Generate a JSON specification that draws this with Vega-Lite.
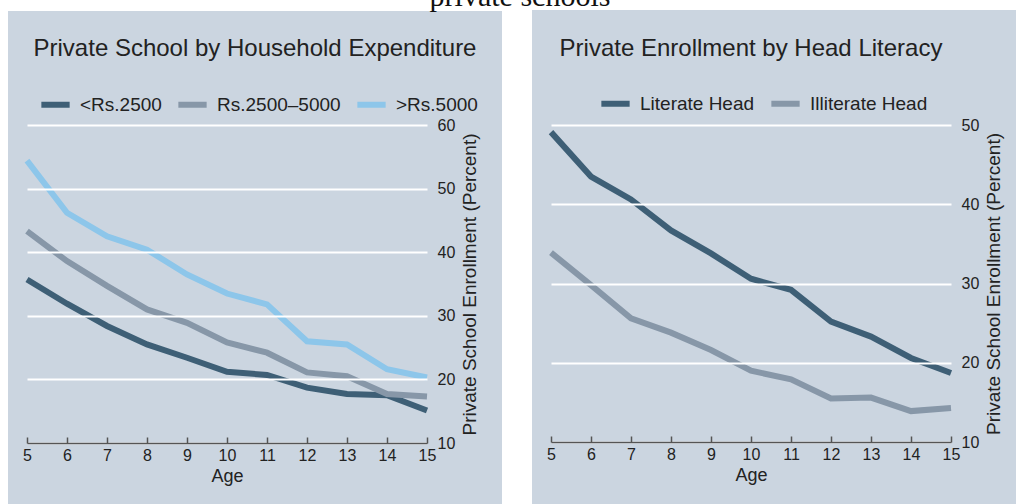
{
  "$schema": "https://vega.github.io/schema/vega-lite/v6.json",
  "background": "white",
  "padding": {"left": 8, "top": -18, "right": 0, "bottom": 0},
  "title": {"text": "private schools", "font": "Liberation Serif", "fontSize": 30, "fontWeight": "normal", "color": "#111", "baseline": "alphabetic", "anchor": "middle", "offset": -26, "dx": 6},
  "datasets": {
    "exp": [
      {"age": 5, "group": "<Rs.2500", "pct": 35.7}, {"age": 6, "group": "<Rs.2500", "pct": 31.9}, {"age": 7, "group": "<Rs.2500", "pct": 28.4}, {"age": 8, "group": "<Rs.2500", "pct": 25.5}, {"age": 9, "group": "<Rs.2500", "pct": 23.4}, {"age": 10, "group": "<Rs.2500", "pct": 21.2}, {"age": 11, "group": "<Rs.2500", "pct": 20.7}, {"age": 12, "group": "<Rs.2500", "pct": 18.7}, {"age": 13, "group": "<Rs.2500", "pct": 17.7}, {"age": 14, "group": "<Rs.2500", "pct": 17.5}, {"age": 15, "group": "<Rs.2500", "pct": 15.1},
      {"age": 5, "group": "Rs.2500–5000", "pct": 43.3}, {"age": 6, "group": "Rs.2500–5000", "pct": 38.6}, {"age": 7, "group": "Rs.2500–5000", "pct": 34.7}, {"age": 8, "group": "Rs.2500–5000", "pct": 31.0}, {"age": 9, "group": "Rs.2500–5000", "pct": 28.9}, {"age": 10, "group": "Rs.2500–5000", "pct": 25.8}, {"age": 11, "group": "Rs.2500–5000", "pct": 24.2}, {"age": 12, "group": "Rs.2500–5000", "pct": 21.1}, {"age": 13, "group": "Rs.2500–5000", "pct": 20.5}, {"age": 14, "group": "Rs.2500–5000", "pct": 17.7}, {"age": 15, "group": "Rs.2500–5000", "pct": 17.3},
      {"age": 5, "group": ">Rs.5000", "pct": 54.4}, {"age": 6, "group": ">Rs.5000", "pct": 46.2}, {"age": 7, "group": ">Rs.5000", "pct": 42.5}, {"age": 8, "group": ">Rs.5000", "pct": 40.4}, {"age": 9, "group": ">Rs.5000", "pct": 36.5}, {"age": 10, "group": ">Rs.5000", "pct": 33.5}, {"age": 11, "group": ">Rs.5000", "pct": 31.8}, {"age": 12, "group": ">Rs.5000", "pct": 26.0}, {"age": 13, "group": ">Rs.5000", "pct": 25.5}, {"age": 14, "group": ">Rs.5000", "pct": 21.6}, {"age": 15, "group": ">Rs.5000", "pct": 20.3}
    ],
    "lit": [
      {"age": 5, "group": "Literate Head", "pct": 49.1}, {"age": 6, "group": "Literate Head", "pct": 43.5}, {"age": 7, "group": "Literate Head", "pct": 40.6}, {"age": 8, "group": "Literate Head", "pct": 36.7}, {"age": 9, "group": "Literate Head", "pct": 33.8}, {"age": 10, "group": "Literate Head", "pct": 30.6}, {"age": 11, "group": "Literate Head", "pct": 29.2}, {"age": 12, "group": "Literate Head", "pct": 25.2}, {"age": 13, "group": "Literate Head", "pct": 23.3}, {"age": 14, "group": "Literate Head", "pct": 20.6}, {"age": 15, "group": "Literate Head", "pct": 18.7},
      {"age": 5, "group": "Illiterate Head", "pct": 33.9}, {"age": 6, "group": "Illiterate Head", "pct": 29.8}, {"age": 7, "group": "Illiterate Head", "pct": 25.6}, {"age": 8, "group": "Illiterate Head", "pct": 23.8}, {"age": 9, "group": "Illiterate Head", "pct": 21.6}, {"age": 10, "group": "Illiterate Head", "pct": 19.0}, {"age": 11, "group": "Illiterate Head", "pct": 17.9}, {"age": 12, "group": "Illiterate Head", "pct": 15.5}, {"age": 13, "group": "Illiterate Head", "pct": 15.6}, {"age": 14, "group": "Illiterate Head", "pct": 13.9}, {"age": 15, "group": "Illiterate Head", "pct": 14.3}
    ],
    "panel": [{"name": "panel"}]
  },
  "spacing": 30,
  "resolve": {"scale": {"x": "independent", "y": "independent", "color": "independent"}, "legend": {"color": "independent"}},
  "config": {
    "view": {"stroke": null},
    "font": "Liberation Sans",
    "axis": {"labelFont": "Liberation Sans", "titleFont": "Liberation Sans", "labelColor": "#222", "titleColor": "#222", "titleFontWeight": "normal", "labelFontSize": 16, "titleFontSize": 18, "labelOverlap": false},
    "legend": {"labelFont": "Liberation Sans", "labelFontSize": 19, "labelColor": "#222", "symbolType": "stroke", "symbolSize": 800, "symbolStrokeWidth": 6, "labelOffset": 7, "columnPadding": 4, "direction": "horizontal", "orient": "none", "title": null, "zindex": 3},
    "title": {"font": "Liberation Sans", "fontWeight": "normal", "color": "#222"}
  },
  "hconcat": [
    {
      "width": 400,
      "height": 318,
      "title": {"text": "Private School by Household Expenditure", "fontSize": 24, "frame": "bounds", "anchor": "middle", "baseline": "middle", "offset": -62, "zindex": 3},
      "layer": [
        {
          "data": {"name": "panel"},
          "mark": {"type": "rect", "fill": "#cbd5e0", "zindex": 0},
          "encoding": {
            "x": {"datum": 4.525, "type": "quantitative",
              "axis": {"title": "Age", "zindex": 1, "values": [5,6,7,8,9,10,11,12,13,14,15], "labelOverlap": false, "labelFlush": false, "grid": false, "domainColor": "#555", "domainWidth": 1.5, "tickColor": "#555", "tickWidth": 1.5, "tickSize": -6, "labelPadding": 10, "titlePadding": 4}},
            "x2": {"datum": 16.875},
            "y": {"datum": -1, "type": "quantitative",
              "axis": {"orient": "right", "zindex": 1, "title": "Private School Enrollment (Percent)", "titleFontSize": 19, "values": [10,20,30,40,50,60], "labelOverlap": false, "grid": true, "gridColor": "white", "gridWidth": 2, "gridOpacity": 1, "domain": false, "ticks": false, "labelPadding": 10, "titleAngle": 270, "titleBaseline": "top", "titlePadding": 6}},
            "y2": {"datum": 77.92}
          }
        },
        {
          "data": {"name": "exp"},
          "mark": {"type": "line", "strokeWidth": 6, "zindex": 2},
          "encoding": {
            "x": {"field": "age", "type": "quantitative", "scale": {"domain": [5, 15], "nice": false, "zero": false},
              "axis": {"title": "Age", "zindex": 1, "values": [5,6,7,8,9,10,11,12,13,14,15], "labelOverlap": false, "labelFlush": false, "grid": false, "domainColor": "#555", "domainWidth": 1.5, "tickColor": "#555", "tickWidth": 1.5, "tickSize": -6, "labelPadding": 10, "titlePadding": 4}},
            "y": {"field": "pct", "type": "quantitative", "scale": {"domain": [10, 60], "nice": false, "zero": false},
              "axis": {"orient": "right", "zindex": 1, "title": "Private School Enrollment (Percent)", "titleFontSize": 19, "values": [10,20,30,40,50,60], "labelOverlap": false, "grid": true, "gridColor": "white", "gridWidth": 2, "gridOpacity": 1, "domain": false, "ticks": false, "labelPadding": 10, "titleAngle": 270, "titleBaseline": "top", "titlePadding": 6}},
            "color": {"field": "group", "type": "nominal",
              "scale": {"domain": ["<Rs.2500", "Rs.2500–5000", ">Rs.5000"], "range": ["#3e5f76", "#8797a8", "#8dc6ea"]},
              "legend": {"legendX": 11, "legendY": -38}}
          }
        }
      ]
    },
    {
      "width": 400,
      "height": 317,
      "title": {"text": "Private Enrollment by Head Literacy", "fontSize": 24, "frame": "group", "anchor": "middle", "baseline": "middle", "offset": -63, "zindex": 3},
      "layer": [
        {
          "data": {"name": "panel"},
          "mark": {"type": "rect", "fill": "#cbd5e0", "zindex": 0},
          "encoding": {
            "x": {"datum": 4.525, "type": "quantitative",
              "axis": {"title": "Age", "zindex": 1, "values": [5,6,7,8,9,10,11,12,13,14,15], "labelOverlap": false, "labelFlush": false, "grid": false, "domainColor": "#555", "domainWidth": 1.5, "tickColor": "#555", "tickWidth": 1.5, "tickSize": -6, "labelPadding": 10, "titlePadding": 4}},
            "x2": {"datum": 16.725},
            "y": {"datum": 1.17, "type": "quantitative",
              "axis": {"orient": "right", "zindex": 1, "title": "Private School Enrollment (Percent)", "titleFontSize": 19, "values": [10,20,30,40,50], "labelOverlap": false, "grid": true, "gridColor": "white", "gridWidth": 2, "gridOpacity": 1, "domain": false, "ticks": false, "labelPadding": 10, "titleAngle": 270, "titleBaseline": "top", "titlePadding": 6}},
            "y2": {"datum": 64.51}
          }
        },
        {
          "data": {"name": "lit"},
          "mark": {"type": "line", "strokeWidth": 6, "zindex": 2},
          "encoding": {
            "x": {"field": "age", "type": "quantitative", "scale": {"domain": [5, 15], "nice": false, "zero": false},
              "axis": {"title": "Age", "zindex": 1, "values": [5,6,7,8,9,10,11,12,13,14,15], "labelOverlap": false, "labelFlush": false, "grid": false, "domainColor": "#555", "domainWidth": 1.5, "tickColor": "#555", "tickWidth": 1.5, "tickSize": -6, "labelPadding": 10, "titlePadding": 4}},
            "y": {"field": "pct", "type": "quantitative", "scale": {"domain": [10, 50], "nice": false, "zero": false},
              "axis": {"orient": "right", "zindex": 1, "title": "Private School Enrollment (Percent)", "titleFontSize": 19, "values": [10,20,30,40,50], "labelOverlap": false, "grid": true, "gridColor": "white", "gridWidth": 2, "gridOpacity": 1, "domain": false, "ticks": false, "labelPadding": 10, "titleAngle": 270, "titleBaseline": "top", "titlePadding": 6}},
            "color": {"field": "group", "type": "nominal",
              "scale": {"domain": ["Literate Head", "Illiterate Head"], "range": ["#3e5f76", "#8797a8"]},
              "legend": {"legendX": 47, "legendY": -39}}
          }
        }
      ]
    }
  ]
}
